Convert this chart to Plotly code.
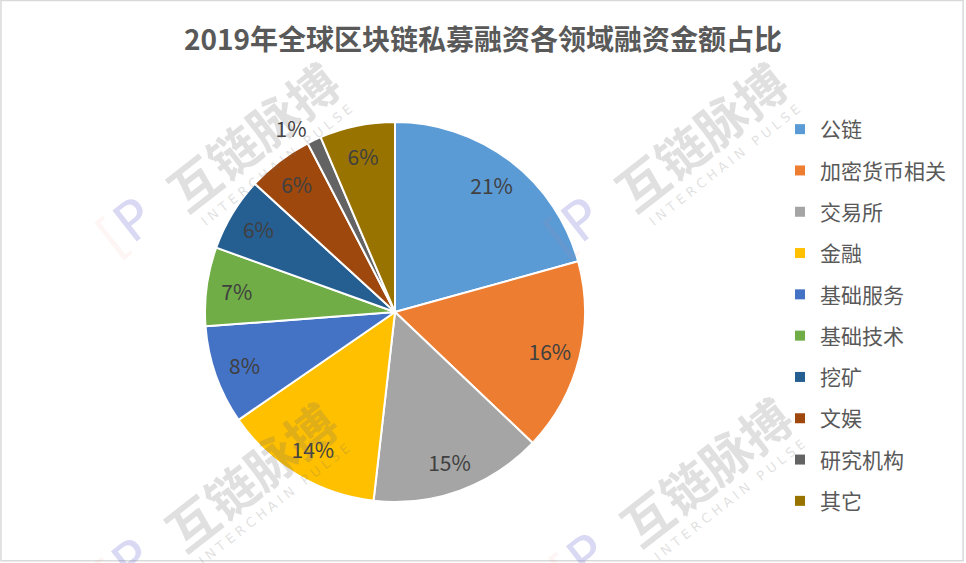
import plotly.graph_objects as go

categories = ["公链", "加密货币相关", "交易所", "金融", "基础服务", "基础技术", "挖矿", "文娱", "研究机构", "其它"]
shares = [20.7, 16.4, 14.7, 13.6, 8.4, 6.7, 6.3, 5.6, 1.2, 6.4]
colors = ["#5B9BD5", "#ED7D31", "#A5A5A5", "#FFC000", "#4472C4", "#70AD47", "#255E91", "#9E480E", "#636363", "#997300"]
title_text = "2019年全球区块链私募融资各领域融资金额占比"

W, H = 966, 563
FONT = "Noto Sans CJK SC"
PIE_DOMAIN = dict(x=[0.2122, 0.6056], y=[0.1083, 0.7833])

fig = go.Figure()

# coloured slices (no text)
fig.add_trace(go.Pie(
    labels=categories, values=shares, sort=False, direction="clockwise", rotation=0,
    marker=dict(colors=colors, line=dict(color="white", width=2)),
    textinfo="none", showlegend=False, hoverinfo="label+percent",
    domain=PIE_DOMAIN,
))

# transparent ring carrying the percentage labels (places them near the rim)
textpos = ["outside" if v < 3 else "inside" for v in shares]
fig.add_trace(go.Pie(
    labels=categories, values=shares, sort=False, direction="clockwise", rotation=0,
    hole=0.68,
    marker=dict(colors=["rgba(0,0,0,0)"] * len(shares), line=dict(width=0)),
    texttemplate="%{percent:.0%}", textposition=textpos,
    insidetextorientation="horizontal",
    textfont=dict(family=FONT, size=21, color="#404040"),
    showlegend=False, hoverinfo="skip",
    domain=PIE_DOMAIN,
))

# legend entries
for i, (c, col) in enumerate(zip(categories, colors)):
    fig.add_trace(go.Scatter(
        x=[None], y=[None], mode="markers", name=c,
        marker=dict(symbol="square", size=10, color=col),
        legendgroup=f"g{i}", showlegend=True,
    ))

# watermarks
wm_centers = [(252, 135), (700, 135), (250, 475), (705, 470)]
annotations = []
for (cx, cy) in wm_centers:
    annotations.append(dict(
        x=cx / W, y=1 - cy / H, xref="paper", yref="paper", text="<b>互链脉搏</b>",
        xanchor="center", yanchor="middle",
        showarrow=False, textangle=-38, font=dict(family=FONT, size=50, color="rgba(110,110,110,0.21)"),
    ))
    annotations.append(dict(
        x=(cx + 24) / W, y=1 - (cy + 30) / H, xref="paper", yref="paper",
        text="I N T E R C H A I N   P U L S E",
        xanchor="center", yanchor="middle",
        showarrow=False, textangle=-38, font=dict(family="DejaVu Sans", size=13, color="rgba(110,110,110,0.22)"),
    ))
    annotations.append(dict(
        x=(cx - 126) / W, y=1 - (cy + 92) / H, xref="paper", yref="paper",
        text='<span style="color:rgba(240,110,120,0.25)">[</span>P',
        xanchor="center", yanchor="middle",
        showarrow=False, textangle=-38, font=dict(family="DejaVu Sans", size=54, color="rgba(120,120,215,0.28)"),
    ))

fig.update_layout(
    width=W, height=H,
    margin=dict(l=0, r=0, t=0, b=0, autoexpand=False),
    paper_bgcolor="white", plot_bgcolor="white",
    title=dict(text="<b>" + title_text + "</b>", x=0.5, xanchor="center", y=1 - 40 / H, yanchor="middle",
               font=dict(family=FONT, size=28, color="#595959")),
    xaxis=dict(visible=False), yaxis=dict(visible=False),
    legend=dict(x=780 / W, xanchor="left", y=1 - 109 / H, yanchor="top",
                font=dict(family=FONT, size=21, color="#595959"),
                tracegroupgap=11, bgcolor="rgba(0,0,0,0)"),
    annotations=annotations,
    shapes=[dict(type="rect", xref="paper", yref="paper", x0=0.001, x1=0.997, y0=0.004, y1=0.999,
                 line=dict(color="#D9D9D9", width=1.5))],
)

fig.write_html("out.html", config={"displayModeBar": False},
               post_script="document.body.style.margin='0px';document.body.style.padding='0px';")
